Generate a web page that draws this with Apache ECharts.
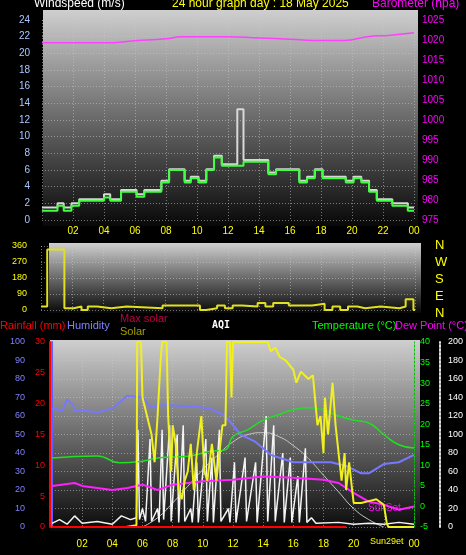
<!DOCTYPE html>
<html><head><meta charset="utf-8">
<script src="https://cdn.jsdelivr.net/npm/echarts@6/dist/echarts.min.js"></script>
<style>html,body{margin:0;background:#000;}#c{width:466px;height:555px;}</style>
</head><body><div id="c"></div>
<script>
// ---------- DATA ----------
const hourTicks = ['02','04','06','08','10','12','14','16','18','20','22','00'];
// wind speed steps [startHour, m/s]
const windSpeed = [[0,1.1],[1,1.7],[1.4,1.1],[1.9,1.7],[2.4,2.3],[4,2.7],[4.4,2.3],[5.1,3.4],[6.1,2.8],[6.6,3.4],[7.7,4.5],[8.2,6.0],[9.2,4.5],[9.6,5.0],[10.1,4.5],[10.6,6.0],[11.1,7.5],[11.6,6.5],[13,7.0],[14.6,5.5],[15.1,6.0],[16.6,4.5],[17.1,5.0],[17.6,6.0],[18.1,5.0],[19.6,4.5],[20.1,5.0],[20.6,4.5],[21.1,3.4],[21.6,2.3],[22.6,1.7],[23.6,1.1],[24,1.1]];
const windGust = [[0,1.5],[1,2.0],[1.4,1.5],[1.9,2.0],[2.4,2.5],[4,3.1],[4.4,2.5],[5.1,3.6],[6.1,3.1],[6.6,3.6],[7.7,4.7],[8.2,6.1],[9.2,4.7],[9.6,5.2],[10.1,4.7],[10.6,6.1],[11.1,7.7],[11.6,6.7],[12.6,13.3],[13,7.2],[14.6,5.7],[15.1,6.1],[16.6,4.7],[17.1,5.2],[17.6,6.1],[18.1,5.2],[19.6,4.7],[20.1,5.2],[20.6,4.7],[21.1,3.6],[21.6,2.5],[22.6,2.0],[23.6,1.5],[24,1.5]];
const barometer = [[0,1019.3],[2,1019.3],[4,1019.3],[6,1019.8],[8,1020.3],[9,1020.8],[12,1020.8],[14,1020.5],[16,1020.2],[17.5,1019.9],[19.5,1019.9],[21,1020.8],[22.5,1021.2],[24,1021.8]];
const windDir = [[0,20],[0.4,340],[1.5,10],[2.1,20],[2.6,0],[3.0,20],[3.6,10],[4.5,20],[5.5,10],[7.8,25],[10.2,0],[10.6,10],[11.3,25],[11.8,10],[12.3,25],[12.9,20],[13.9,40],[14.4,20],[14.9,40],[15.9,25],[17.4,35],[18.2,0],[18.7,20],[19.2,0],[19.7,20],[20.3,10],[20.8,20],[21.8,10],[23,20],[23.4,60],[23.9,0],[24,0]];
const humidity = [[0,64],[0.7,63],[1,69],[1.4,66],[1.5,63],[2,63],[3,62],[4,64],[5,71],[6,70],[6.5,65],[7.5,66],[9.5,65],[10.5,64],[11.5,60],[12,55],[12.5,50],[13.5,46],[14.5,39],[16,35],[17,35],[18.5,35],[19.5,33],[20.5,29],[21,29],[22,34],[23,35],[24,39]];
const temperature = [[0,11.8],[3,12.3],[4.5,10.6],[6,11],[7,11.8],[9,12.2],[10.5,13.4],[11.5,13.8],[12,17],[13,18.7],[14,21],[15,22.3],[16,23.5],[17,24],[18,23.5],[19,22],[20,21],[21,20.3],[22,17.5],[23,15],[24,14.2]];
const dewPoint = [[0,5],[1.5,5.7],[2,5],[4,4],[5,4.5],[6,5.3],[7,4],[8,5.3],[10,6.1],[12,6.5],[14,7.3],[16,7],[18,6.5],[19,5.7],[20,3.3],[21,1.2],[22,0.4],[23,-0.8],[24,0]];
// solar as % of full scale
const solar = [[0,0],[4.9,0],[5.6,1],[5.65,100],[5.9,100],[6.0,70],[6.3,60],[6.6,50],[6.8,35],[7.0,60],[7.2,90],[7.3,100],[7.6,100],[7.7,60],[7.9,30],[8.0,55],[8.2,45],[8.4,20],[8.6,15],[8.8,25],[9.0,30],[9.2,45],[9.4,20],[9.6,40],[9.9,60],[10.1,30],[10.3,25],[10.6,45],[10.9,25],[11.1,40],[11.3,55],[11.5,55],[11.6,100],[11.8,100],[11.9,70],[12.0,100],[13.0,100],[14.3,100],[14.5,95],[14.8,97],[15.1,92],[15.5,90],[16.0,85],[16.2,78],[16.5,84],[17.0,80],[17.3,82],[17.6,55],[17.8,60],[18.0,40],[18.1,70],[18.3,50],[18.6,78],[18.8,55],[19.0,40],[19.2,25],[19.4,40],[19.5,20],[19.7,35],[19.9,20],[20.0,13],[20.5,13],[21,14],[21.5,15],[22.0,12],[22.2,2],[22.3,0],[24,0]];
const maxSolar = [[6,0],[7,5],[8,13],[9,22],[10,31],[11,39],[12,46],[13,50],[14,51],[15,49],[16,44],[17,37],[18,28],[19,19],[20,10],[21,4],[22,0]];
const aqi = [[0,4],[0.5,8],[1,3],[1.5,12],[2,4],[3,6],[4,3],[4.6,12],[5.2,8],[5.6,10],[5.7,105],[5.8,8],[6.0,20],[6.2,6],[6.5,95],[6.6,6],[7.0,20],[7.1,5],[7.3,105],[7.4,8],[7.8,110],[7.9,6],[8.3,100],[8.4,5],[8.7,110],[8.8,6],[9.2,20],[9.3,5],[9.6,70],[9.7,5],[10.2,95],[10.3,6],[10.6,75],[10.7,5],[11.1,105],[11.2,6],[11.7,20],[11.8,5],[12.1,70],[12.2,5],[12.8,75],[12.9,6],[13.5,70],[13.6,5],[14.2,120],[14.3,6],[14.7,110],[14.8,6],[15.3,80],[15.4,5],[15.8,75],[15.9,5],[16.3,55],[16.4,5],[16.8,85],[16.9,5],[17.2,10],[17.5,4],[19,5],[20,3],[21,4],[22,3],[23,5],[24,3]];
const rainfall = [[0,0],[19.5,0]];

// ---------- CHART ----------
const F = 'Liberation Sans';
const ch = echarts.init(document.getElementById('c'));
const grad = new echarts.graphic.LinearGradient(0,0,0,1,[{offset:0,color:'#cfcfcf'},{offset:0.5,color:'#6a6a6a'},{offset:1,color:'#080808'}]);
const dotted = {show:true,lineStyle:{color:'rgba(200,200,200,0.55)',type:[1,2],width:1}};
const fmtHour = v => (v===0?'':String(v%24).padStart(2,'0'));
function xAx(g, labels){return {type:'value',gridIndex:g,min:0,max:24,interval:2,
  axisLabel:{show:labels,color:'#ffff00',fontSize:10,fontFamily:F,formatter:fmtHour,margin:6},
  axisLine:{show:false},axisTick:{show:false},splitLine:dotted};}
function t(x,y,s,c,sz){return {type:'text',left:x,top:y,style:{text:s,fill:c,font:sz+'px "Liberation Sans"'}};}
ch.setOption({
 backgroundColor:'#000',animation:false,
 graphic:[
  {type:'rect',shape:{x:43,y:10,width:375,height:216},style:{fill:grad},z:-1},
  {type:'rect',shape:{x:49,y:243,width:372,height:70},style:{fill:grad},z:-1},
  {type:'rect',shape:{x:50,y:340,width:370,height:191},style:{fill:grad},z:-1},
  t(34,-2,'Windspeed (m/s)','#fff',12),
  t(172,-2,'24 hour graph day : 18 May 2025','#ffff00',12),
  t(372,-2,'Barometer (hpa)','#ff00ff',12),
  {type:'text',left:435,top:237,style:{text:'N\nW\nS\nE\nN',fill:'#ffff00',font:'13px "Liberation Sans"',lineHeight:17}},
  t(0,320,'Rainfall (mm)','#ff0000',11),
  t(67,320,'Humidity','#8080ff',11),
  t(120,313,'Max solar','#c00040',11),
  t(120,326,'Solar','#a0a000',11),
  {type:'text',left:212,top:320,style:{text:'AQI',fill:'#fff',font:'bold 10px "DejaVu Sans Mono"'}},
  t(312,320,'Temperature (°C)','#00ff00',11),
  t(395,320,'Dew Point (°C)','#ff00ff',11),
  t(368,503,'SunSet','#ff00ff',10),
  t(370,537,'Sun29et','#ffff00',9)
 ],
 grid:[
  {left:42,right:52,top:20,bottom:335},
  {left:41,right:51,top:246,bottom:245},
  {left:52,right:51,top:342,bottom:28}
 ],
 xAxis:[xAx(0,true),xAx(1,false),
  Object.assign(xAx(2,true),{axisLabel:{color:'#ffff00',fontSize:10,fontFamily:F,margin:12,formatter:v=>(v===0||v===22?'':String(v%24).padStart(2,'0'))}})],
 yAxis:[
  {type:'value',gridIndex:0,min:0,max:24,interval:2,position:'left',axisLabel:{color:'#a8c8ff',fontSize:10,fontFamily:F,margin:12},axisLine:{show:false},axisTick:{show:false},splitLine:dotted},
  {type:'value',gridIndex:0,min:975,max:1025,interval:5,position:'right',axisLabel:{color:'#ff00ff',fontSize:10,fontFamily:F,margin:8,formatter:v=>String(v)},axisLine:{show:false},axisTick:{show:false},splitLine:{show:false}},
  {type:'value',gridIndex:1,min:0,max:360,interval:90,axisLabel:{color:'#ffff00',fontSize:9,fontFamily:F,margin:14},axisLine:{show:false},axisTick:{show:false},splitLine:dotted},
  {type:'value',gridIndex:2,min:0,max:100,interval:10,position:'left',offset:22,axisLabel:{color:'#8080ff',fontSize:9,fontFamily:F,margin:5},axisLine:{show:true,lineStyle:{color:'#6060ff',width:2}},axisTick:{show:false},splitLine:dotted},
  {type:'value',gridIndex:2,min:0,max:30,interval:5,position:'left',offset:2,axisLabel:{color:'#ff0000',fontSize:9,fontFamily:F,margin:5},axisLine:{show:true,lineStyle:{color:'#ff0000',width:2}},axisTick:{show:false},splitLine:{show:false}},
  {type:'value',gridIndex:2,min:-5,max:40,interval:5,position:'right',offset:0,axisLabel:{color:'#00ff00',fontSize:9,fontFamily:F,margin:6},axisLine:{show:true,lineStyle:{color:'#00c000',type:[2,2]}},axisTick:{show:false},splitLine:{show:false}},
  {type:'value',gridIndex:2,min:0,max:200,interval:20,position:'right',offset:26,axisLabel:{color:'#fff',fontSize:9,fontFamily:F,margin:8},axisLine:{show:true,lineStyle:{color:'#ddd',type:[2,2],width:2}},axisTick:{show:false},splitLine:{show:false}},
  {type:'value',gridIndex:2,min:0,max:100,show:false}
 ],
 series:[
  {type:'line',xAxisIndex:0,yAxisIndex:1,data:barometer,symbol:'none',smooth:true,lineStyle:{color:'#ff40ff',width:1.5}},
  {type:'line',xAxisIndex:0,yAxisIndex:0,data:windGust,step:'end',symbol:'none',lineStyle:{color:'#d8d8d8',width:2}},
  {type:'line',xAxisIndex:0,yAxisIndex:0,data:windSpeed,step:'end',symbol:'none',lineStyle:{color:'#40ff40',width:2}},
  {type:'line',xAxisIndex:1,yAxisIndex:2,data:windDir,step:'end',symbol:'none',lineStyle:{color:'#e0e020',width:2}},
  {type:'line',xAxisIndex:2,yAxisIndex:7,data:maxSolar,symbol:'none',smooth:true,lineStyle:{color:'#c8c8c8',width:1}},
  {type:'line',xAxisIndex:2,yAxisIndex:6,data:aqi,symbol:'none',lineStyle:{color:'#f4f4f4',width:1.5}},
  {type:'line',xAxisIndex:2,yAxisIndex:3,data:humidity,symbol:'none',lineStyle:{color:'#7878ff',width:2}},
  {type:'line',xAxisIndex:2,yAxisIndex:5,data:temperature,symbol:'none',smooth:true,lineStyle:{color:'#20e020',width:1.5}},
  {type:'line',xAxisIndex:2,yAxisIndex:5,data:dewPoint,symbol:'none',lineStyle:{color:'#ff20ff',width:2}},
  {type:'line',xAxisIndex:2,yAxisIndex:7,data:solar,symbol:'none',lineStyle:{color:'#f0f020',width:2}},
  {type:'line',xAxisIndex:2,yAxisIndex:4,data:rainfall,symbol:'none',lineStyle:{color:'#ff0000',width:2}}
 ]
});
</script></body></html>
